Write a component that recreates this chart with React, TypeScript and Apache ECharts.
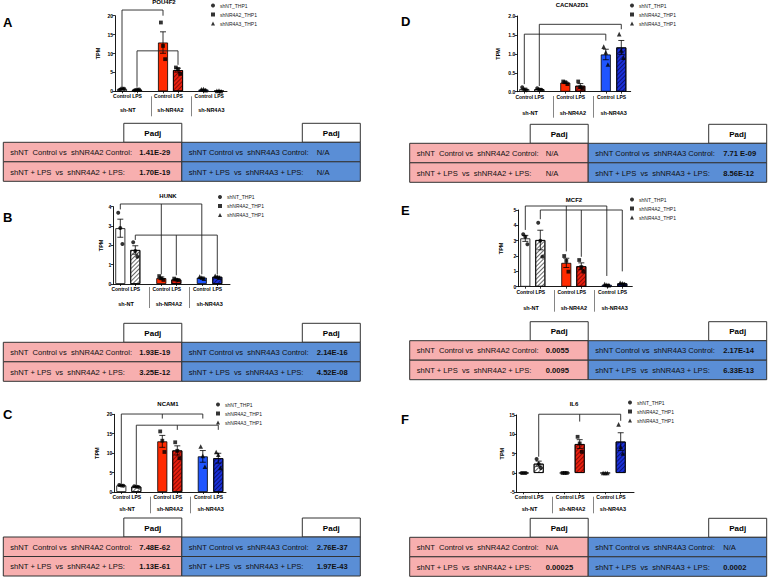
import { useEffect, useRef } from 'react';
import * as echarts from 'echarts';

// ---------- data ----------
const geneNames = ['POU4F2', 'HUNK', 'NCAM1', 'CACNA2D1', 'MCF2', 'IL6'];
const panelLetters = ['A', 'B', 'C', 'D', 'E', 'F'];
const barLabels = ['Control', 'LPS', 'Control', 'LPS', 'Control', 'LPS'];
const groupLabels = ['sh-NT', 'sh-NR4A2', 'sh-NR4A3'];
const legendNames = ['shNT_THP1', 'shNR4A2_THP1', 'shNR4A3_THP1'];

// replicate TPM values: shNT Ctrl, shNT LPS, NR4A2 Ctrl, NR4A2 LPS, NR4A3 Ctrl, NR4A3 LPS
const pou4f2Values = [[0.4, 0.8, 0.7], [0.3, 0.5, 0.5], [18.2, 12.0, 8.5], [6.3, 5.9, 4.6], [0.5, 0.6, 0.3], [0.1, 0.2, 0.0]];
const hunkValues = [[3.69, 2.9, 2.07], [2.16, 1.71, 1.41], [0.41, 0.29, 0.21], [0.28, 0.22, 0.2], [0.38, 0.33, 0.28], [0.42, 0.38, 0.32]];
const ncam1Values = [[1.8, 1.7, 1.6], [1.5, 1.4, 1.3], [15.6, 13.2, 10.3], [12.8, 10.6, 8.7], [11.7, 9.3, 6.5], [10.3, 9.6, 6.2]];
const cacna2d1Values = [[0.12, 0.05, 0.04], [0.09, 0.06, 0.05], [0.27, 0.25, 0.2], [0.27, 0.12, 0.08], [1.19, 1.04, 0.72], [1.52, 1.09, 0.9]];
const mcf2Values = [[3.42, 3.26, 2.77], [4.17, 3.0, 1.96], [2.0, 1.68, 0.98], [1.74, 1.28, 0.98], [0.17, 0.12, 0.1], [0.25, 0.22, 0.18]];
const il6Values = [[0, 0, 0], [3.6, 2.3, 1.3], [0, 0, 0], [9.36, 7.64, 5.46], [0, 0, 0], [12.58, 6.76, 5.04]];

const yMins = [0, 0, 0, 0, 0, -5];
const yMaxs = [20, 4, 20, 2, 5, 15];
const yIntervals = [5, 1, 5, 0.5, 1, 5];

// significance brackets (TPM units)
const pou4f2Brackets = [
  { from: 0, to: [2], top: 21.5, fromEnd: 1.4, toEnds: [20.0] },
  { from: 1, to: [3], top: 10.7, fromEnd: 1.2, toEnds: [7.0] },
];
const hunkBrackets = [
  { from: 0, to: [2, 4], top: 4.14, fromEnd: 3.86, toEnds: [0.5, 0.5] },
  { from: 1, to: [3, 5], top: 2.53, fromEnd: 2.28, toEnds: [0.45, 0.5] },
];
const ncam1Brackets = [
  { from: 0, to: [2, 4], top: 20.07, fromEnd: 2.2, toEnds: [18.9, 18.9] },
  { from: 1, to: [3, 5], top: 17.2, fromEnd: 1.9, toEnds: [16.0, 16.0] },
];
const cacna2d1Brackets = [
  { from: 1, to: [5], top: 1.78, fromEnd: 0.15, toEnds: [1.65] },
  { from: 0, to: [4], top: 1.52, fromEnd: 0.2, toEnds: [1.35] },
];
const mcf2Brackets = [
  { from: 0, to: [2, 4], top: 5.26, fromEnd: 3.7, toEnds: [2.3, 0.7] },
  { from: 1, to: [3, 5], top: 5.0, fromEnd: 4.4, toEnds: [1.95, 1.0] },
];
const il6Brackets = [
  { from: 1, to: [3, 5], top: 15.2, fromEnd: 4.2, toEnds: [13.3, 13.5] },
];

// tables
const rowLabelsNR4A2 = ['shNT  Control vs  shNR4A2 Control:', 'shNT + LPS  vs  shNR4A2 + LPS:'];
const rowLabelsNR4A3 = ['shNT Control vs  shNR4A3 Control:', 'shNT + LPS  vs  shNR4A3 + LPS:'];
const padjNR4A2 = [['1.41E-29', '1.70E-19'], ['1.93E-19', '3.25E-12'], ['7.48E-62', '1.13E-61'], ['N/A', 'N/A'], ['0.0055', '0.0095'], ['N/A', '0.00025']];
const padjNR4A3 = [['N/A', 'N/A'], ['2.14E-16', '4.52E-08'], ['2.76E-37', '1.97E-43'], ['7.71 E-09', '8.56E-12'], ['2.17E-14', '6.33E-13'], ['N/A', '0.0002']];

const panelValues = [pou4f2Values, hunkValues, ncam1Values, cacna2d1Values, mcf2Values, il6Values];
const panelBrackets = [pou4f2Brackets, hunkBrackets, ncam1Brackets, cacna2d1Brackets, mcf2Brackets, il6Brackets];

// ---------- layout & style ----------
const FONT = '"Liberation Sans", Arial, sans-serif';
const gridRects = [
  [115, 15.7, 112, 75.6],
  [113.3, 206.7, 116.7, 77.3],
  [114.3, 414.3, 111.7, 77.7],
  [517.3, 16, 113.4, 75.7],
  [518.3, 210, 114, 76.7],
  [516.7, 415, 117.3, 77.3],
];
const PX_PER_UNIT = 15;
const barPositions = [0.467, 1.467, 3.2, 4.2, 5.9, 6.933];
const groupCenters = [0.85, 3.7, 6.42];
const separatorPositions = [2.4, 5.07];
const pointOffsets = [-0.14, 0, 0.14];
const sepBottom = [25, 24, 21.3, 26, 25, 21];
const sepTop = [5, 3, 4.7, 4.3, 3.3, 4.4];
const groupLabelOffset = [14, 14.5, 11.5, 16, 15.8, 11.2];
const nameGaps = [14, 9.5, 14.5, 16, 14.5, 11];
const titlePos = [[164, 2], [168, 196], [168, 404], [572, 5], [574, 200], [574, 404]];
const letterPos = [[3, 22.5], [3, 217.5], [3, 414.5], [401, 21], [401, 210], [401, 419]];
const legendPos = [[211, 2.5], [218, 194], [216, 401.5], [630, 2.5], [630, 196.5], [628, 399.5]];
const tableOrigins = [[3.3, 123.3], [3.3, 323.3], [3.3, 518], [409.7, 124.3], [409.7, 321.7], [409.7, 518.3]];
const HALF_W = 178.5;
const PADJ_W = 58;
const HEADER_H = 19;
const ROW_H = 19.5;
const PINK = '#F7AFAF';
const BLUE = '#5A8ED6';

const barFills = ['#ffffff', '#ffffff', '#ff2a00', '#e8200f', '#1f55ff', '#1a30d8'];
const hatchColors = [null, 'rgba(80,80,80,0.85)', null, 'rgba(90,0,0,0.65)', null, 'rgba(0,0,60,0.6)'];
const groupSymbols = ['circle', 'rect', 'triangle'];
const symbolSizes = [4, 3.8, 4.6];

function stats(vals: number[]) {
  const n = vals.length;
  const mean = vals.reduce((a, b) => a + b, 0) / n;
  const sd = Math.sqrt(vals.reduce((a, b) => a + (b - mean) ** 2, 0) / (n - 1));
  return { mean, sem: sd / Math.sqrt(n) };
}

function labelAt(positions: number[], labels: string[], v: number) {
  const i = positions.findIndex((p) => Math.abs(p - v) < 0.01);
  return i >= 0 ? labels[i] : '';
}

function buildOption() {
  const grid: any[] = [];
  const xAxis: any[] = [];
  const yAxis: any[] = [];
  const series: any[] = [];
  const legend: any[] = [];
  const graphic: any[] = [];

  for (let p = 0; p < 6; p++) {
    const [gl, gt, gw, gh] = gridRects[p];
    const xMax = gw / PX_PER_UNIT;
    grid.push({ left: gl, top: gt, width: gw, height: gh, containLabel: false, outerBoundsMode: 'none' });

    xAxis.push({
      type: 'value', gridIndex: p, min: 0, max: xMax, position: 'bottom',
      axisLine: { show: true, onZero: false, lineStyle: { color: '#000', width: 0.9 } },
      axisTick: { show: true, customValues: barPositions, length: 2, lineStyle: { color: '#000', width: 0.8 } },
      axisLabel: {
        show: true, customValues: barPositions, formatter: (v: number) => labelAt(barPositions, barLabels, v),
        fontSize: 5, fontWeight: 'bold', fontFamily: FONT, color: '#000', margin: 2.5,
      },
      splitLine: { show: false },
    });
    xAxis.push({
      type: 'value', gridIndex: p, min: 0, max: xMax, position: 'bottom', offset: sepBottom[p],
      axisLine: { show: false, onZero: false },
      axisTick: { show: true, inside: true, customValues: separatorPositions, length: sepBottom[p] - sepTop[p], lineStyle: { color: '#777', width: 0.9 } },
      axisLabel: { show: false },
      splitLine: { show: false },
    });
    xAxis.push({
      type: 'value', gridIndex: p, min: 0, max: xMax, position: 'bottom', offset: groupLabelOffset[p],
      axisLine: { show: false, onZero: false },
      axisTick: { show: false },
      axisLabel: {
        show: true, customValues: groupCenters, formatter: (v: number) => labelAt(groupCenters, groupLabels, v),
        fontSize: 5.5, fontWeight: 'bold', fontFamily: FONT, color: '#000', margin: 2,
      },
      splitLine: { show: false },
    });

    yAxis.push({
      type: 'value', gridIndex: p, min: yMins[p], max: yMaxs[p], interval: yIntervals[p],
      name: 'TPM', nameLocation: 'middle', nameGap: nameGaps[p], nameRotate: 90,
      nameTextStyle: { fontSize: 5.5, fontWeight: 'bold', fontFamily: FONT, color: '#000' },
      axisLine: { show: true, onZero: false, lineStyle: { color: '#000', width: 0.9 } },
      axisTick: { show: true, length: 2.5, lineStyle: { color: '#000', width: 0.8 } },
      axisLabel: {
        fontSize: 5, fontWeight: 'bold', fontFamily: FONT, color: '#000', margin: 2,
        formatter: (v: number) => (p === 3 ? v.toFixed(1) : String(v)),
      },
      splitLine: { show: false },
    });

    const vals = panelValues[p];
    const st = vals.map(stats);
    const xi = p * 3;

    series.push({
      type: 'bar', xAxisIndex: xi, yAxisIndex: p, barWidth: 10, z: 2,
      data: st.map((s, i) => ({
        value: [barPositions[i], s.mean],
        itemStyle: {
          color: barFills[i], borderColor: '#000', borderWidth: 0.8,
          decal: hatchColors[i]
            ? { symbol: 'rect', symbolSize: 1, dashArrayX: [1, 0], dashArrayY: [1, 1.6], rotation: -Math.PI / 4, color: hatchColors[i] }
            : undefined,
        },
      })),
    });

    series.push({
      type: 'custom', xAxisIndex: xi, yAxisIndex: p, z: 3, clip: false,
      data: st.map((s, i) => [barPositions[i], s.mean - s.sem, s.mean + s.sem]),
      renderItem: (_params: any, api: any) => {
        const x = api.value(0), lo = api.value(1), hi = api.value(2);
        if (hi - lo < 1e-9) return { type: 'group', children: [] };
        const a = api.coord([x, hi]);
        const b = api.coord([x, lo]);
        const style = { stroke: '#000', lineWidth: 0.8 };
        const cw = 3;
        return {
          type: 'group',
          children: [
            { type: 'line', shape: { x1: a[0], y1: a[1], x2: b[0], y2: b[1] }, style },
            { type: 'line', shape: { x1: a[0] - cw, y1: a[1], x2: a[0] + cw, y2: a[1] }, style },
            { type: 'line', shape: { x1: b[0] - cw, y1: b[1], x2: b[0] + cw, y2: b[1] }, style },
          ],
        };
      },
    });

    for (let g = 0; g < 3; g++) {
      const data: number[][] = [];
      for (const i of [g * 2, g * 2 + 1]) {
        vals[i].forEach((v, k) => data.push([barPositions[i] + pointOffsets[k], v]));
      }
      series.push({
        type: 'scatter', name: legendNames[g], xAxisIndex: xi, yAxisIndex: p, z: 4,
        symbol: groupSymbols[g], symbolSize: symbolSizes[g],
        itemStyle: { color: '#000' }, data,
      });
    }

    const brackets = panelBrackets[p];
    series.push({
      type: 'custom', xAxisIndex: xi, yAxisIndex: p, z: 3, clip: false,
      data: brackets.map((b) => [barPositions[b.from], b.top]),
      renderItem: (params: any, api: any) => {
        const b = brackets[params.dataIndex];
        const style = { stroke: '#222', lineWidth: 0.9 };
        const xs = [b.from, ...b.to].map((i) => barPositions[i]);
        const left = api.coord([xs[0], b.top]);
        const right = api.coord([xs[xs.length - 1], b.top]);
        const children: any[] = [
          { type: 'line', shape: { x1: left[0], y1: left[1], x2: right[0], y2: right[1] }, style },
        ];
        const ends = [b.fromEnd, ...b.toEnds];
        xs.forEach((x, j) => {
          const t = api.coord([x, b.top]);
          const e = api.coord([x, ends[j]]);
          children.push({ type: 'line', shape: { x1: t[0], y1: t[1], x2: e[0], y2: e[1] }, style });
        });
        return { type: 'group', children };
      },
    });

    legend.push({
      orient: 'vertical', left: legendPos[p][0], top: legendPos[p][1], padding: 0,
      itemWidth: 4, itemHeight: 4, itemGap: 3, selectedMode: false,
      textStyle: { fontSize: 5, fontFamily: FONT, color: '#222', lineHeight: 6 },
      data: legendNames.map((n, g) => ({ name: n, icon: groupSymbols[g] })),
    });

    // title & letter
    graphic.push({
      type: 'text', x: titlePos[p][0], y: titlePos[p][1],
      style: { text: geneNames[p], fontSize: 6, fontWeight: 'bold', fontFamily: FONT, fill: '#000', align: 'center', verticalAlign: 'middle' },
    });
    graphic.push({
      type: 'text', x: letterPos[p][0], y: letterPos[p][1],
      style: { text: panelLetters[p], fontSize: 13, fontWeight: 'bold', fontFamily: FONT, fill: '#000', align: 'left', verticalAlign: 'middle' },
    });

    // table
    const [tx, ty] = tableOrigins[p];
    for (let h = 0; h < 2; h++) {
      const hx = tx + h * HALF_W;
      const fill = h === 0 ? PINK : BLUE;
      const labels = h === 0 ? rowLabelsNR4A2 : rowLabelsNR4A3;
      const values = h === 0 ? padjNR4A2[p] : padjNR4A3[p];
      graphic.push({
        type: 'rect', shape: { x: hx + HALF_W - PADJ_W, y: ty, width: PADJ_W, height: HEADER_H },
        style: { fill: '#fff', stroke: '#333', lineWidth: 1 },
      });
      graphic.push({
        type: 'text', x: hx + HALF_W - PADJ_W / 2, y: ty + HEADER_H / 2 + 0.5,
        style: { text: 'Padj', fontSize: 8, fontWeight: 'bold', fontFamily: FONT, fill: '#000', align: 'center', verticalAlign: 'middle' },
      });
      for (let r = 0; r < 2; r++) {
        const ry = ty + HEADER_H + r * ROW_H;
        graphic.push({
          type: 'rect', shape: { x: hx, y: ry, width: HALF_W, height: ROW_H },
          style: { fill, stroke: '#333', lineWidth: 1 },
        });
        graphic.push({
          type: 'text', x: hx + 7, y: ry + ROW_H / 2 + 0.5,
          style: { text: labels[r], fontSize: 7.6, fontFamily: FONT, fill: '#111', align: 'left', verticalAlign: 'middle' },
        });
        const v = values[r];
        graphic.push({
          type: 'text', x: hx + (h === 0 ? 136 : 135), y: ry + ROW_H / 2 + 0.5,
          style: { text: v, fontSize: 7.6, fontWeight: v === 'N/A' ? 'normal' : 'bold', fontFamily: FONT, fill: '#111', align: 'left', verticalAlign: 'middle' },
        });
      }
    }
  }

  return {
    animation: false,
    backgroundColor: '#ffffff',
    textStyle: { fontFamily: FONT },
    grid, xAxis, yAxis, series, legend, graphic,
  };
}

export default function App() {
  const ref = useRef<HTMLDivElement>(null);
  useEffect(() => {
    const chart = echarts.init(ref.current as HTMLDivElement, null, { renderer: 'svg' });
    chart.setOption(buildOption() as any);
    return () => chart.dispose();
  }, []);
  return (
    <div
      ref={ref}
      style={{ position: 'absolute', left: 0, top: 0, width: 768, height: 577, background: '#fff' }}
    />
  );
}
